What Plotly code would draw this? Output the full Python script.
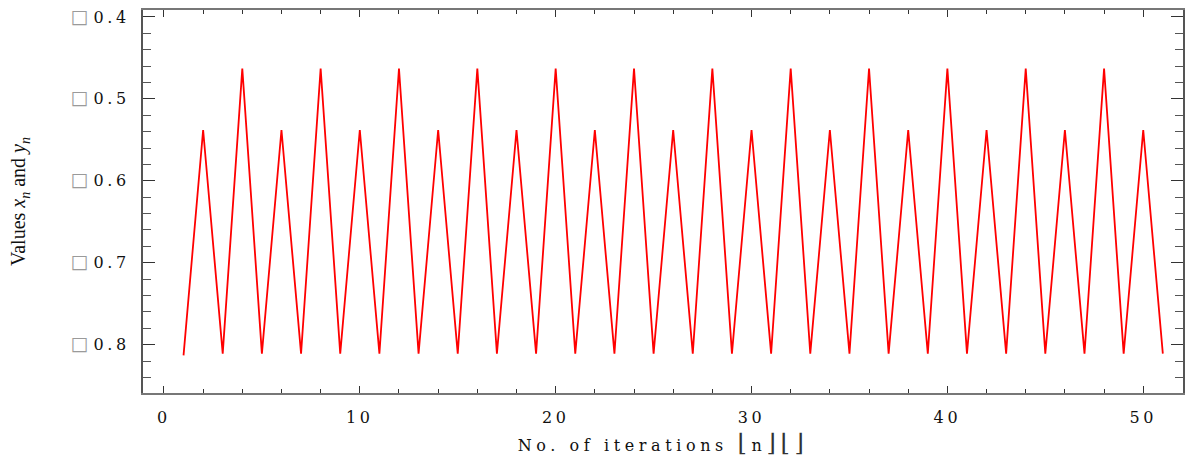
import plotly.graph_objects as go

# Iterates of the map: index n and the value at that step
n_iter = list(range(1, 52))
values = [
    -0.813, -0.538, -0.811, -0.463, -0.811, -0.538, -0.811, -0.463,
    -0.811, -0.538, -0.811, -0.463, -0.811, -0.538, -0.811, -0.463,
    -0.811, -0.538, -0.811, -0.463, -0.811, -0.538, -0.811, -0.463,
    -0.811, -0.538, -0.811, -0.463, -0.811, -0.538, -0.811, -0.463,
    -0.811, -0.538, -0.811, -0.463, -0.811, -0.538, -0.811, -0.463,
    -0.811, -0.538, -0.811, -0.463, -0.811, -0.538, -0.811, -0.463,
    -0.811, -0.538, -0.811,
]

x_ticks = [0, 10, 20, 30, 40, 50]
y_ticks = [-0.8, -0.7, -0.6, -0.5, -0.4]
y_tick_text = ["0.8", "0.7", "0.6", "0.5", "0.4"]

serif = "DejaVu Serif"
box = "<span style='color:#9a9a9a;font-size:19px;letter-spacing:5px'>□</span>"
bracket = "<span style='font-size:24px;color:#333333'>{}</span>"
x_title = ("No. of iterations " + bracket.format("⌊") + "n" + bracket.format("⌋")
           + bracket.format("⌊⌋"))

fig = go.Figure()
fig.add_trace(go.Scatter(
    x=n_iter, y=values, mode="lines",
    line=dict(color="#ff0000", width=1.8),
    showlegend=False,
))

fig.update_layout(
    width=1186, height=459,
    margin=dict(l=143, r=1, t=10, b=66),
    paper_bgcolor="white", plot_bgcolor="white",
    font=dict(family=serif, color="#111111"),
)

fig.update_xaxes(
    range=[-1.07, 52.03],
    tickvals=x_ticks,
    ticks="inside", ticklen=7, tickwidth=1.2, tickcolor="#333333",
    minor=dict(dtick=2, tick0=0, ticks="inside", ticklen=4, tickwidth=1, tickcolor="#333333"),
    showline=True, linecolor="#777777", linewidth=2, mirror="allticks",
    showgrid=False, zeroline=False,
    tickfont=dict(family=serif, size=16, color="#111111"),
    ticklabelstandoff=9,
    title=dict(text=x_title, font=dict(family=serif, size=16, color="#111111"), standoff=14),
)

fig.update_yaxes(
    range=[-0.859, -0.3915],
    tickvals=y_ticks,
    ticktext=[box + t for t in y_tick_text],
    ticks="inside", ticklen=12, tickwidth=1.2, tickcolor="#333333",
    minor=dict(dtick=0.02, tick0=0, ticks="inside", ticklen=8, tickwidth=1, tickcolor="#555555"),
    showline=True, linecolor="#555555", linewidth=2, mirror="allticks",
    showgrid=False, zeroline=False,
    tickfont=dict(family=serif, size=16, color="#111111"),
    ticklabelstandoff=8,
    title=dict(text="Values <i>x<sub>n</sub></i> and <i>y<sub>n</sub></i>",
               font=dict(family="Liberation Serif", size=20, color="#111111"), standoff=50),
)

css = (
    "var s=document.createElement('style');"
    "s.textContent='.xtick text,.ytick text{letter-spacing:3.6px}.g-xtitle text{letter-spacing:4.6px}';"
    "document.head.appendChild(s);"
)

fig.write_html("out.html", post_script=css)
